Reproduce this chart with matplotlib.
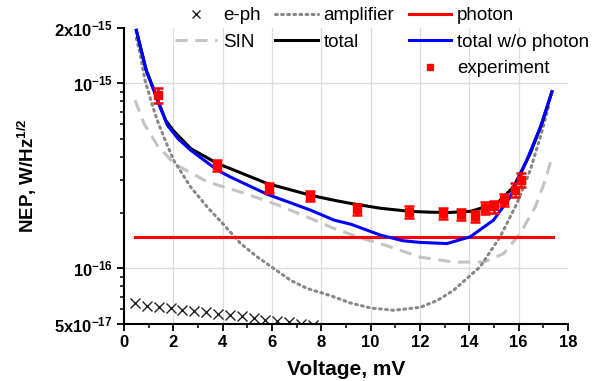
import matplotlib
matplotlib.use('Agg')
import matplotlib.pyplot as plt
from matplotlib.lines import Line2D
import numpy as np

plt.rcParams['font.family'] = ['Liberation Sans', 'DejaVu Sans']
plt.rcParams['mathtext.fontset'] = 'custom'
plt.rcParams['mathtext.rm'] = 'Liberation Sans'
plt.rcParams['mathtext.bf'] = 'Liberation Sans:bold'

# e-ph noise (crosses)
eph_v = [0.45, 0.93, 1.41, 1.89, 2.37, 2.85, 3.33, 3.81, 4.29, 4.77, 5.25, 5.73, 6.21, 6.69, 7.17, 7.65]
eph_nep = [6.49e-17, 6.28e-17, 6.17e-17, 6.07e-17, 5.98e-17, 5.88e-17, 5.78e-17, 5.69e-17,
           5.59e-17, 5.50e-17, 5.37e-17, 5.28e-17, 5.19e-17, 5.13e-17, 5.02e-17, 4.96e-17]

# SIN noise (dashed)
sin_v = [0.45, 0.81, 1.35, 2.03, 3.38, 4.73, 6.08, 7.44, 8.52, 9.8, 10.4, 12.0, 13.36, 14.58,
         15.39, 16.06, 16.67, 17.08, 17.35]
sin_nep = [8.1e-16, 6.05e-16, 4.62e-16, 3.68e-16, 2.93e-16, 2.58e-16, 2.24e-16, 1.89e-16, 1.64e-16,
           1.43e-16, 1.36e-16, 1.15e-16, 1.08e-16, 1.08e-16, 1.2e-16, 1.54e-16, 2.14e-16, 2.99e-16, 4.0e-16]

# amplifier noise (dotted)
amp_v = [0.5, 0.65, 0.85, 1.15, 1.35, 1.7, 2.03, 2.7, 3.38, 4.06, 4.73, 5.41, 6.08, 6.76, 7.44,
         8.11, 8.52, 9.17, 10.0, 10.93, 12.0, 12.7, 13.36, 14.44, 15.25, 15.93, 16.47, 16.88, 17.21]
amp_nep = [1.75e-15, 1.45e-15, 1.04e-15, 7.6e-16, 6.3e-16, 4.8e-16, 3.8e-16, 2.75e-16, 2.14e-16,
           1.71e-16, 1.36e-16, 1.15e-16, 9.96e-17, 8.6e-17, 7.76e-17, 7.3e-17, 7.0e-17, 6.5e-17,
           6.1e-17, 5.93e-17, 6.15e-17, 6.7e-17, 7.6e-17, 1.02e-16, 1.48e-16, 2.24e-16, 3.39e-16,
           5.13e-16, 7.45e-16]

# photon noise
photon_v = [0.45, 17.4]
photon_nep = [1.47e-16, 1.47e-16]

# total
total_v = [0.5, 0.9, 1.2, 1.45, 1.69, 2.0, 2.7, 3.79, 4.3, 5.81, 7.57, 8.52, 9.2, 10.4, 11.6,
           12.4, 13.1, 14.04, 15.12, 15.79, 16.47, 16.94, 17.35]
total_nep = [1.93e-15, 1.18e-15, 9.3e-16, 7.6e-16, 6.3e-16, 5.55e-16, 4.44e-16, 3.68e-16, 3.46e-16,
             2.87e-16, 2.48e-16, 2.33e-16, 2.24e-16, 2.11e-16, 2.03e-16, 2.01e-16, 2.0e-16,
             2.03e-16, 2.24e-16, 2.75e-16, 4.17e-16, 6.05e-16, 9.0e-16]

# total without photon
nophot_v = [0.5, 0.9, 1.2, 1.45, 1.76, 2.2, 2.7, 3.79, 4.3, 5.81, 7.57, 8.52, 9.2, 10.4, 11.3,
            12.0, 13.09, 14.04, 14.98, 15.66, 16.33, 16.88, 17.35]
nophot_nep = [1.93e-15, 1.17e-15, 9.2e-16, 7.5e-16, 5.93e-16, 5.0e-16, 4.35e-16, 3.39e-16, 3.12e-16,
              2.51e-16, 2.06e-16, 1.82e-16, 1.73e-16, 1.51e-16, 1.41e-16, 1.38e-16, 1.36e-16,
              1.48e-16, 1.82e-16, 2.43e-16, 3.84e-16, 5.8e-16, 9.0e-16]

# experiment
exp_v = [1.39, 3.76, 5.86, 7.56, 9.44, 11.56, 12.95, 13.67, 14.21, 14.65, 14.98, 15.39, 15.86, 16.09]
exp_nep = [8.6e-16, 3.6e-16, 2.72e-16, 2.45e-16, 2.08e-16, 2.02e-16, 1.98e-16, 1.96e-16, 1.91e-16,
           2.13e-16, 2.16e-16, 2.35e-16, 2.66e-16, 3.01e-16]
exp_err = [0.8e-16, 0.25e-16, 0.17e-16, 0.15e-16, 0.14e-16, 0.14e-16, 0.14e-16, 0.14e-16,
           0.14e-16, 0.16e-16, 0.16e-16, 0.18e-16, 0.22e-16, 0.25e-16]

xticks = [0, 2, 4, 6, 8, 10, 12, 14, 16, 18]
yticks = [5e-17, 1e-16, 1e-15, 2e-15]
ytick_labels = [r'$\mathbf{5x10^{-17}}$', r'$\mathbf{10^{-16}}$', r'$\mathbf{10^{-15}}$', r'$\mathbf{2x10^{-15}}$']

fig = plt.figure(figsize=(6.08, 3.81), dpi=100)
ax = fig.add_axes([124 / 608, 1 - 324 / 381, 444 / 608, 296.5 / 381])

ax.set_yscale('log')
ax.set_xlim(0, 18)
ax.set_ylim(5e-17, 2e-15)

# grid
for xv in xticks[1:-1]:
    ax.axvline(xv, color='#dcdcdc', lw=0.9, zorder=0)
for yv in [1e-16, 1e-15]:
    ax.axhline(yv, color='#dcdcdc', lw=0.9, zorder=0)

ax.plot(eph_v, eph_nep, 'x', color='#222222', ms=7, mew=1.0)
ax.plot(sin_v, sin_nep, color='#c4c4c4', lw=2.2, dashes=(4, 2.5))
ax.plot(amp_v, amp_nep, color='#888888', lw=2.2, dashes=(0.6, 1.4), dash_capstyle='round')
ax.plot(photon_v, photon_nep, color='#ff0000', lw=2.2)
ax.plot(total_v, total_nep, color='black', lw=2.2)
ax.plot(nophot_v, nophot_nep, color='#0000ff', lw=2.2)
ax.errorbar(exp_v, exp_nep, yerr=exp_err, fmt='s', color='#ff0000', ms=5.5,
            elinewidth=1.8, capsize=3.5, capthick=1.8, zorder=5)

for side in ['top', 'right']:
    ax.spines[side].set_visible(False)
for side in ['left', 'bottom']:
    ax.spines[side].set_linewidth(1.5)

ax.set_xticks(xticks)
ax.set_xticks(np.arange(1, 18, 2), minor=True)
ax.set_xticklabels([str(t) for t in xticks], fontsize=12, fontweight='bold')
ax.set_yticks(yticks)
ax.set_yticklabels(ytick_labels, fontsize=12)
ax.yaxis.set_minor_locator(matplotlib.ticker.LogLocator(base=10, subs=np.arange(2, 10)))
ax.yaxis.set_minor_formatter(matplotlib.ticker.NullFormatter())
ax.tick_params(which='major', length=5, width=1.3, pad=3)
ax.tick_params(which='minor', length=3, width=1.1)

ax.set_xlabel('Voltage, mV', fontsize=15, fontweight='bold', labelpad=7)
ax.set_ylabel(r'NEP, W/Hz$^{\mathbf{1/2}}$', fontsize=13.5, fontweight='bold', labelpad=11)

blank = Line2D([], [], alpha=0)
handles = [
    Line2D([], [], ls='none', marker='x', color='#222222', ms=6, mew=1.0),
    Line2D([], [], color='#c4c4c4', lw=2.2, dashes=(4, 2.5)),
    blank,
    Line2D([], [], color='#888888', lw=2.2, dashes=(0.6, 1.4), dash_capstyle='round'),
    Line2D([], [], color='black', lw=2.2),
    blank,
    Line2D([], [], color='#ff0000', lw=2.2),
    Line2D([], [], color='#0000ff', lw=2.2),
    Line2D([], [], ls='none', marker='s', color='#ff0000', ms=5),
]
labels = ['e-ph', 'SIN', ' ', 'amplifier', 'total', ' ', 'photon', 'total w/o photon', 'experiment']
leg = fig.legend(handles, labels, ncol=3, loc='upper left', bbox_to_anchor=(175 / 608, 1 - 7 / 381),
                 frameon=False, fontsize=13.5, handlelength=2.25, handletextpad=0.3,
                 columnspacing=0.8, labelspacing=0.5, borderpad=0, borderaxespad=0)

fig.savefig('out.png', dpi=100)
